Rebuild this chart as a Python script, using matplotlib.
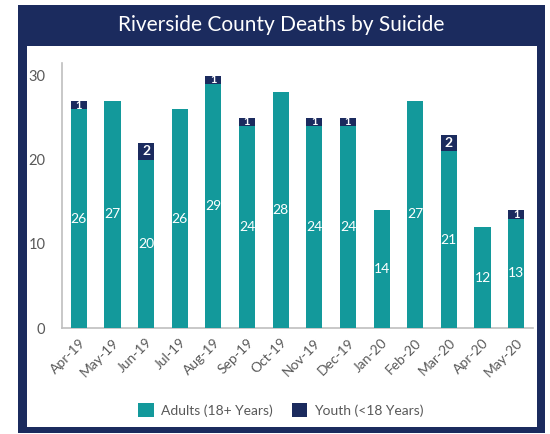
import matplotlib
matplotlib.use("Agg")
import matplotlib.pyplot as plt
from matplotlib.patches import Rectangle
import numpy as np

months = ["Apr-19", "May-19", "Jun-19", "Jul-19", "Aug-19", "Sep-19", "Oct-19",
          "Nov-19", "Dec-19", "Jan-20", "Feb-20", "Mar-20", "Apr-20", "May-20"]
adults = [26, 27, 20, 26, 29, 24, 28, 24, 24, 14, 27, 21, 12, 13]
youth = [1, 0, 2, 0, 1, 1, 0, 1, 1, 0, 0, 2, 0, 1]
yticks = [0, 10, 20, 30]

TEAL = "#13999b"
NAVY = "#1b2b5e"
GRAY_TXT = "#595959"

plt.rcParams['font.family'] = ['Lato', 'DejaVu Sans']

W, H = 550, 434
fig = plt.figure(figsize=(W / 100, H / 100), dpi=100)
fig.patch.set_facecolor("white")

def px_rect(x0, y0, x1, y1, color, z):
    fig.patches.append(Rectangle((x0 / W, 1 - y1 / H), (x1 - x0) / W, (y1 - y0) / H,
                                 transform=fig.transFigure, facecolor=color,
                                 edgecolor="none", zorder=z))

px_rect(18, 5, 545, 433, NAVY, 0)
px_rect(27, 46, 537, 427, "white", 1)

fig.text(281 / W, 1 - 25 / H, "Riverside County Deaths by Suicide", color="white",
         fontsize=15, ha="center", va="center")

ax = fig.add_axes([62 / W, 1 - 328 / H, (533 - 62) / W, (328 - 63) / H])
ax.set_facecolor("none")
ax.set_zorder(2)

x = np.arange(len(months))
bw = 0.48
ax.bar(x, adults, width=bw, color=TEAL, label="Adults (18+ Years)", zorder=3)
ax.bar(x, youth, width=bw, bottom=adults, color=NAVY, label="Youth (<18 Years)", zorder=3)

for i in range(len(months)):
    ax.text(x[i], adults[i] / 2, str(adults[i]), color="white", fontsize=10,
            ha="center", va="center", zorder=4)
    if youth[i] > 0:
        ax.text(x[i], adults[i] + youth[i] / 2, str(youth[i]), color="white",
                fontsize=10 if youth[i] > 1 else 8, fontweight="bold",
                ha="center", va="center", zorder=4)

ax.set_xlim(-0.5, len(months) - 0.5)
ax.set_ylim(0, 31.5)
ax.set_yticks(yticks)
ax.set_xticks(x)
ax.set_xticklabels(months, rotation=45, ha="right", rotation_mode="anchor")
ax.tick_params(axis="y", length=0, pad=12, labelsize=10.5, labelcolor=GRAY_TXT)
ax.tick_params(axis="x", length=0, pad=6, labelsize=10, labelcolor=GRAY_TXT)
for s in ["top", "right"]:
    ax.spines[s].set_visible(False)
for s in ["left", "bottom"]:
    ax.spines[s].set_color("#bfbfbf")
    ax.spines[s].set_linewidth(1.2)

leg = fig.legend(loc="center", bbox_to_anchor=(281 / W, 1 - 410 / H), ncol=2,
                 frameon=False, fontsize=10, handlelength=1.1, handleheight=1.1,
                 columnspacing=1.4, handletextpad=0.5, labelcolor=GRAY_TXT)

fig.savefig("out.png", dpi=100, facecolor="white")
